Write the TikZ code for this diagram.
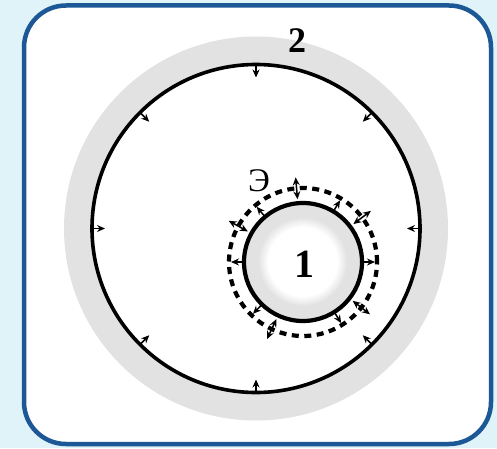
\documentclass[tikz,border=0pt]{standalone}
\usepackage{fontspec}
\setmainfont{Liberation Serif}
\usetikzlibrary{calc,arrows.meta}
\definecolor{bgcyan}{HTML}{DFF3F9}
\definecolor{frameblue}{HTML}{1D5896}
\definecolor{ringgray}{HTML}{E2E2E2}
\tikzset{
  frame/.style={draw=frameblue, line width=4.5pt, fill=white, rounded corners=42pt},
  bigline/.style={draw=black, line width=3.6pt},
  smallline/.style={draw=black, line width=4.2pt},
  dashline/.style={draw=black, line width=4.2pt, dash pattern=on 7pt off 5.5pt},
  arr/.style={line width=1.5pt, -{Stealth[length=8pt,width=7pt]}},
  darr/.style={line width=1.5pt, {Stealth[length=8pt,width=7pt]}-{Stealth[length=8pt,width=7pt]}},
  lbl/.style={inner sep=0pt, font=\bfseries}
}
\begin{document}
\begin{tikzpicture}[x=1pt,y=1pt]
  \useasboundingbox (0,0) rectangle (497,448);
  \fill[bgcyan] (0,0) rectangle (497,448);
  \path[frame] (24,4) rectangle (491,442.5);
  % big circle with gray ring
  \coordinate (C) at (256,219.5);
  \fill[ringgray, even odd rule] (C) circle (192) (C) circle (164);
  \path[bigline] (C) circle (164);
  % small circle
  \coordinate (S) at (303,186);
  \fill[ringgray] (S) circle (59);
  \foreach \i in {0,...,10}{
    \pgfmathtruncatemacro{\p}{100-\i*10}
    \fill[ringgray!\p!white] (S) circle ({45-\i});
  }
  \path[smallline] (S) circle (59);
  \path[dashline] (S) circle (74);
  % inward arrows on big circle
  \foreach \a in {0,45,...,315}{
    \draw[arr] ($(C)+(\a:164)$) -- ($(C)+(\a:151)$);
  }
  % outward arrows on small circle
  \foreach \a in {0,59,130,180,226,302}{
    \draw[arr] ($(S)+(\a:59)$) -- ($(S)+(\a:72)$);
  }
  % double arrows on dashed circle
  \foreach \a in {95,151,245,37,322}{
    \draw[darr] ($(S)+(\a:63)$) -- ($(S)+(\a:85)$);
  }
  % labels
  \node[lbl, font=\bfseries\fontsize{36}{36}\selectfont] (two) at (297,407) {2};
  \node[lbl, font=\bfseries\fontsize{40}{40}\selectfont] (one) at (304,184) {1};
  \node[inner sep=0pt, font=\fontsize{33}{33}\selectfont] (e) at (259,267) {Э};
\end{tikzpicture}
\end{document}
